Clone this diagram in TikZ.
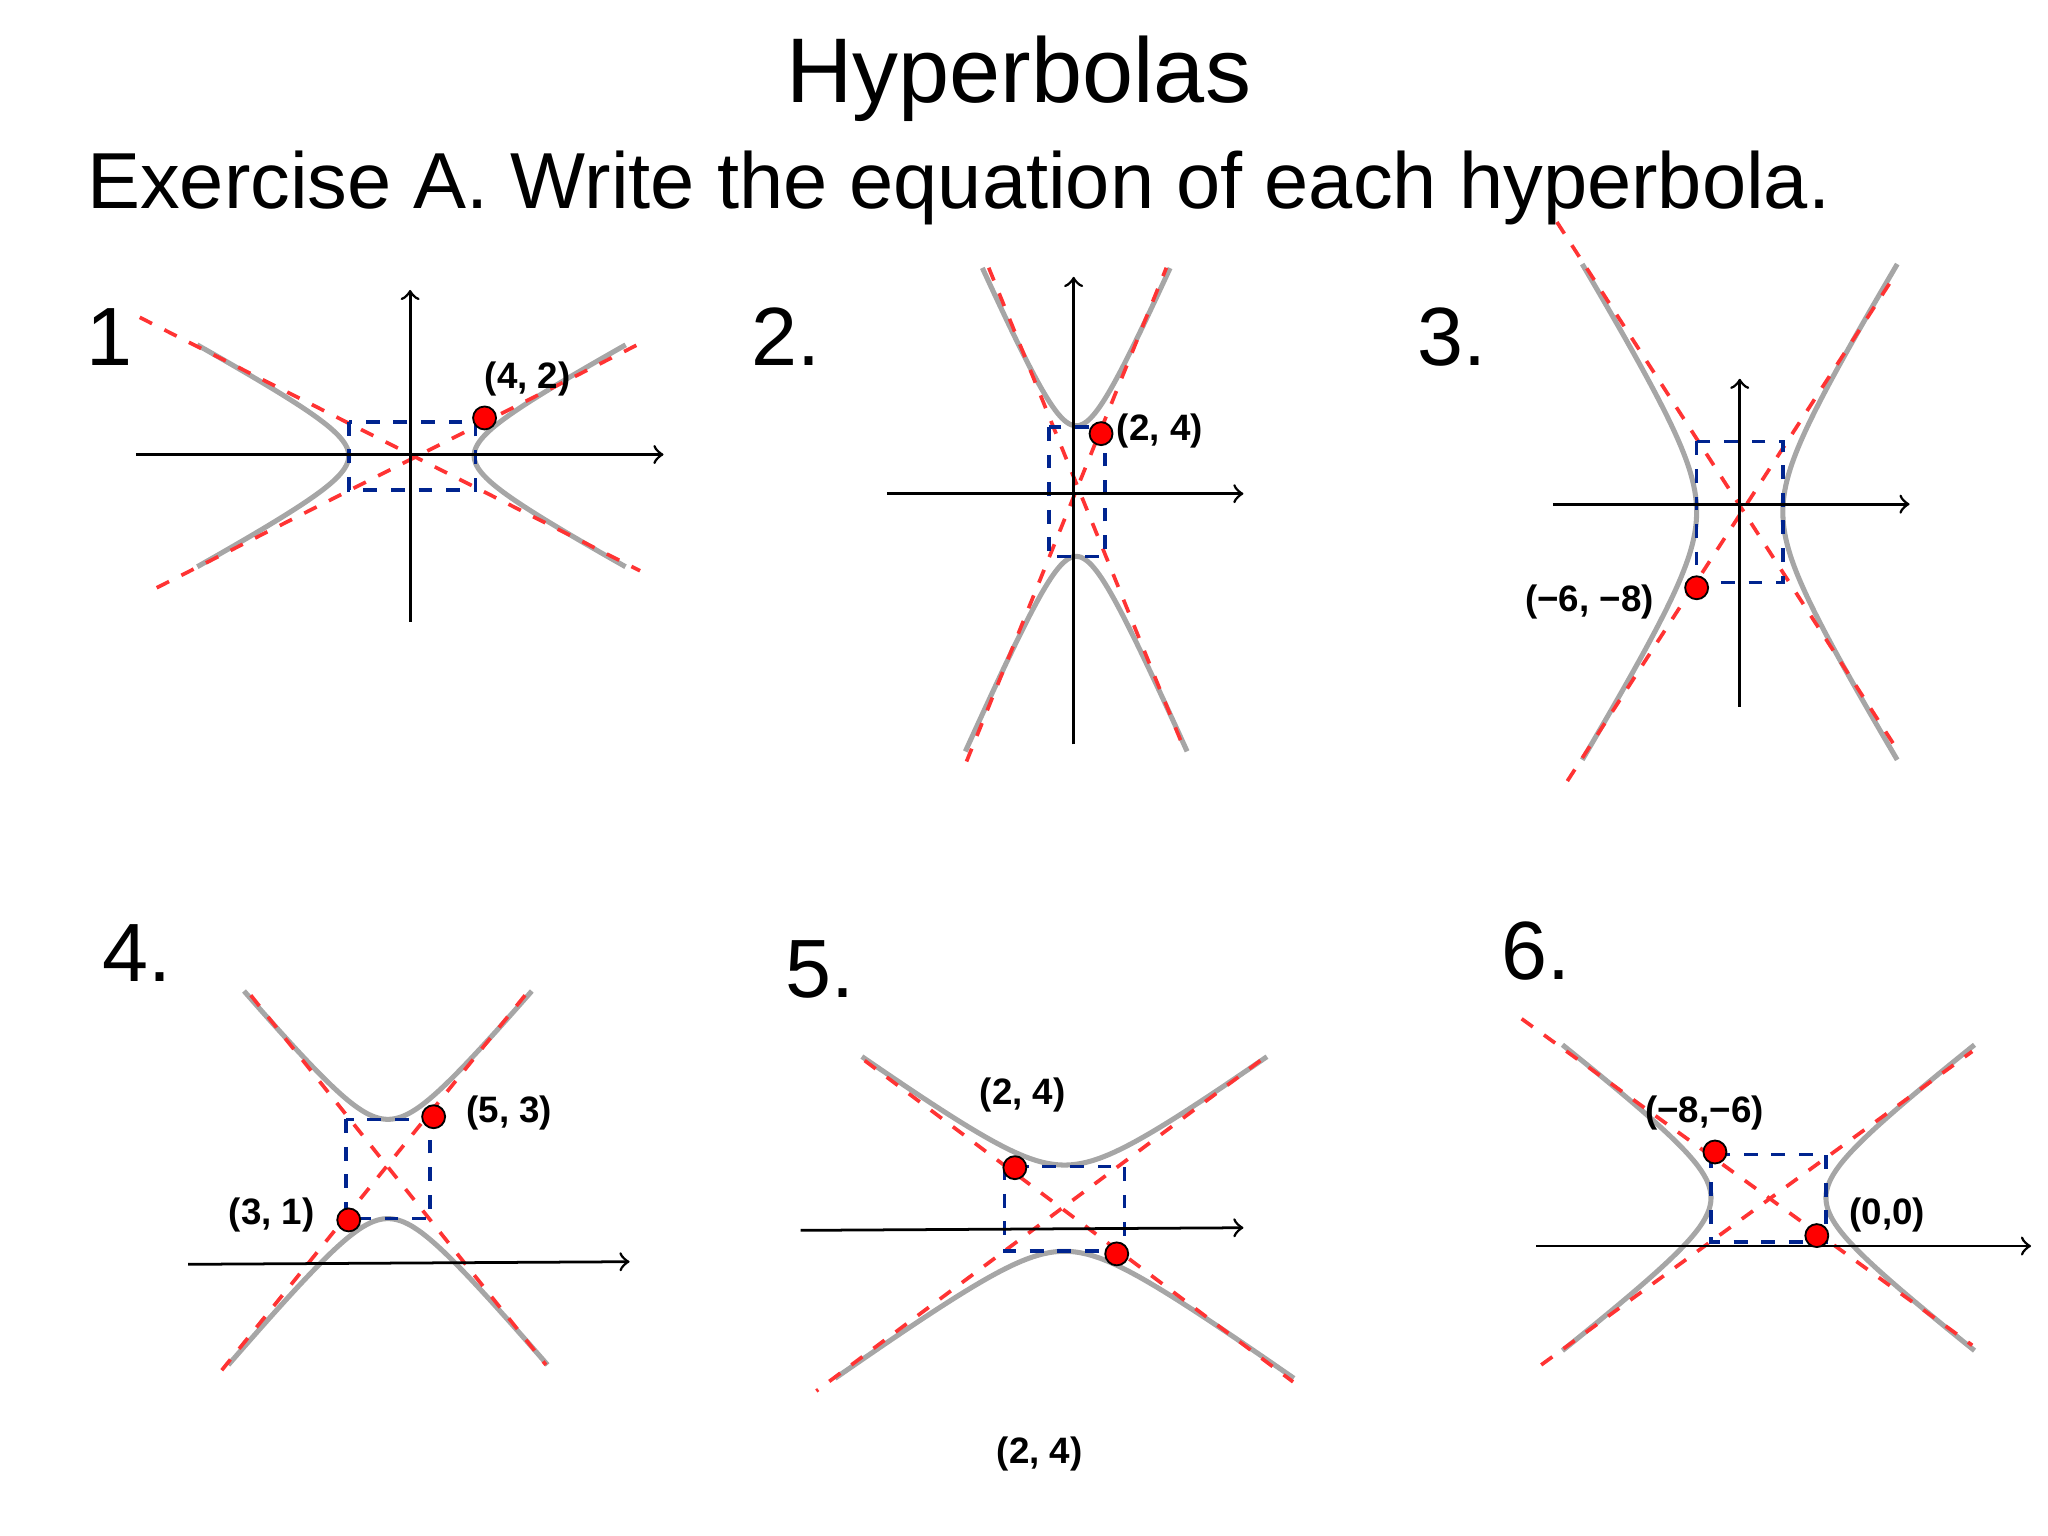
\documentclass[tikz,border=0pt]{standalone}
\usepackage{fontspec}
\setmainfont{Liberation Sans}
\begin{document}
\begin{tikzpicture}[x=0.01cm,y=-0.01cm,
  hyp/.style={draw=gray!70,line width=1.1pt},
  asym/.style={draw=red!80,dashed,line width=0.8pt},
  rbox/.style={draw=blue!60!teal!70!black,dashed,line width=0.8pt},
  ax/.style={draw=black,line width=0.6pt,->},
  pt/.style={circle,fill=red,draw=black,line width=0.4pt,inner sep=0pt,minimum size=5pt},
  lbl/.style={font=\fontsize{8}{9}\selectfont\bfseries},
  num/.style={font=\fontsize{18}{20}\selectfont}]
\useasboundingbox (0,0) rectangle (1568,1176);
\newcommand\hypH[5]{%
  \draw[hyp] plot[domain=-#5:#5,samples=60,smooth] ({#1+#3*cosh(\x)},{#2+#4*sinh(\x)});
  \draw[hyp] plot[domain=-#5:#5,samples=60,smooth] ({#1-#3*cosh(\x)},{#2+#4*sinh(\x)});}
\newcommand\hypV[6]{%
  \draw[hyp] plot[domain=-#5:#5,samples=60,smooth] ({#1+#3*sinh(\x)},{#2-#4*cosh(\x)});
  \draw[hyp] plot[domain=-#6:#6,samples=60,smooth] ({#1+#3*sinh(\x)},{#2+#4*cosh(\x)});}
% title
\node[font=\fontsize{20}{24}\selectfont] (title) at (780,60) {Hyperbolas};
\node[font=\fontsize{17.3}{21}\selectfont,anchor=base west,inner sep=0pt] (ex) at (66,160) {Exercise A. Write the equation of each hyperbola.};
% numbers
\node[num] (n1) at (84,258) {1};
\node[num] (n2) at (602,258) {2.};
\node[num] (n3) at (1112,258) {3.};
\node[num] (n4) at (105,730) {4.};
\node[num] (n5) at (628,742) {5.};
\node[num] (n6) at (1176,728) {6.};
% panel 1
\hypH{315}{349}{48}{26}{1.9}
\draw[asym] (107,243) -- (490,437);
\draw[asym] (120,450) -- (490,263);
\draw[rbox] (267,323) rectangle (364,375);
\draw[ax] (104,348) -- (508,348);
\draw[ax] (314,476) -- (314,222);
\node[pt] (p1) at (371,320) {};
\node[lbl] (l1) at (404,290) {(4, 2)};
% panel 2
\hypV{824}{376}{22}{50}{1.9}{2.06}
\draw[asym] (740,583) -- (893,205);
\draw[asym] (757,205) -- (906,572);
\draw[rbox] (803,327) rectangle (846,426);
\draw[ax] (679,378) -- (952,378);
\draw[ax] (822,570) -- (822,212);
\node[pt] (p2) at (843,332) {};
\node[lbl] (l2) at (888,330) {(2, 4)};
% panel 3
\hypH{1332}{392}{33}{54}{1.97}
\draw[asym] (1192,170) -- (1450,570);
\draw[asym] (1200,598) -- (1448,215);
\draw[rbox] (1299,338) rectangle (1365,446);
\draw[ax] (1189,386) -- (1462,386);
\draw[ax] (1332,541) -- (1332,290);
\node[pt] (p3) at (1299,450) {};
\node[lbl] (l3) at (1217,461) {(−6, −8)};
% panel 4
\hypV{297}{895}{32}{38}{1.95}{2.05}
\draw[asym] (192,762) -- (418,1045);
\draw[asym] (402,762) -- (165,1055);
\draw[rbox] (265,857) rectangle (329,933);
\draw[ax] (144,968) -- (482,966);
\node[pt] (p4a) at (332,855) {};
\node[pt] (p4b) at (267,934) {};
\node[lbl] (l4a) at (390,852) {(5, 3)};
\node[lbl] (l4b) at (208,930) {(3, 1)};
% panel 5
\hypV{815}{925}{46}{33}{1.93}{2.05}
\draw[asym] (662,812) -- (990,1058);
\draw[asym] (965,812) -- (625,1065);
\draw[rbox] (769,893) rectangle (861,958);
\draw[ax] (613,942) -- (952,940);
\node[pt] (p5a) at (777,894) {};
\node[pt] (p5b) at (855,960) {};
\node[lbl] (l5a) at (783,838) {(2, 4)};
\node[lbl] (l5b) at (796,1113) {(2, 4)};
% panel 6
\hypH{1354}{917}{44}{34}{1.95}
\draw[asym] (1165,780) -- (1510,1030);
\draw[asym] (1180,1045) -- (1510,805);
\draw[rbox] (1310,884) rectangle (1398,951);
\draw[ax] (1176,954) -- (1555,954);
\node[pt] (p6a) at (1313,882) {};
\node[pt] (p6b) at (1391,946) {};
\node[lbl] (l6a) at (1305,852) {(−8,−6)};
\node[lbl] (l6b) at (1445,930) {(0,0)};
\end{tikzpicture}
\end{document}
